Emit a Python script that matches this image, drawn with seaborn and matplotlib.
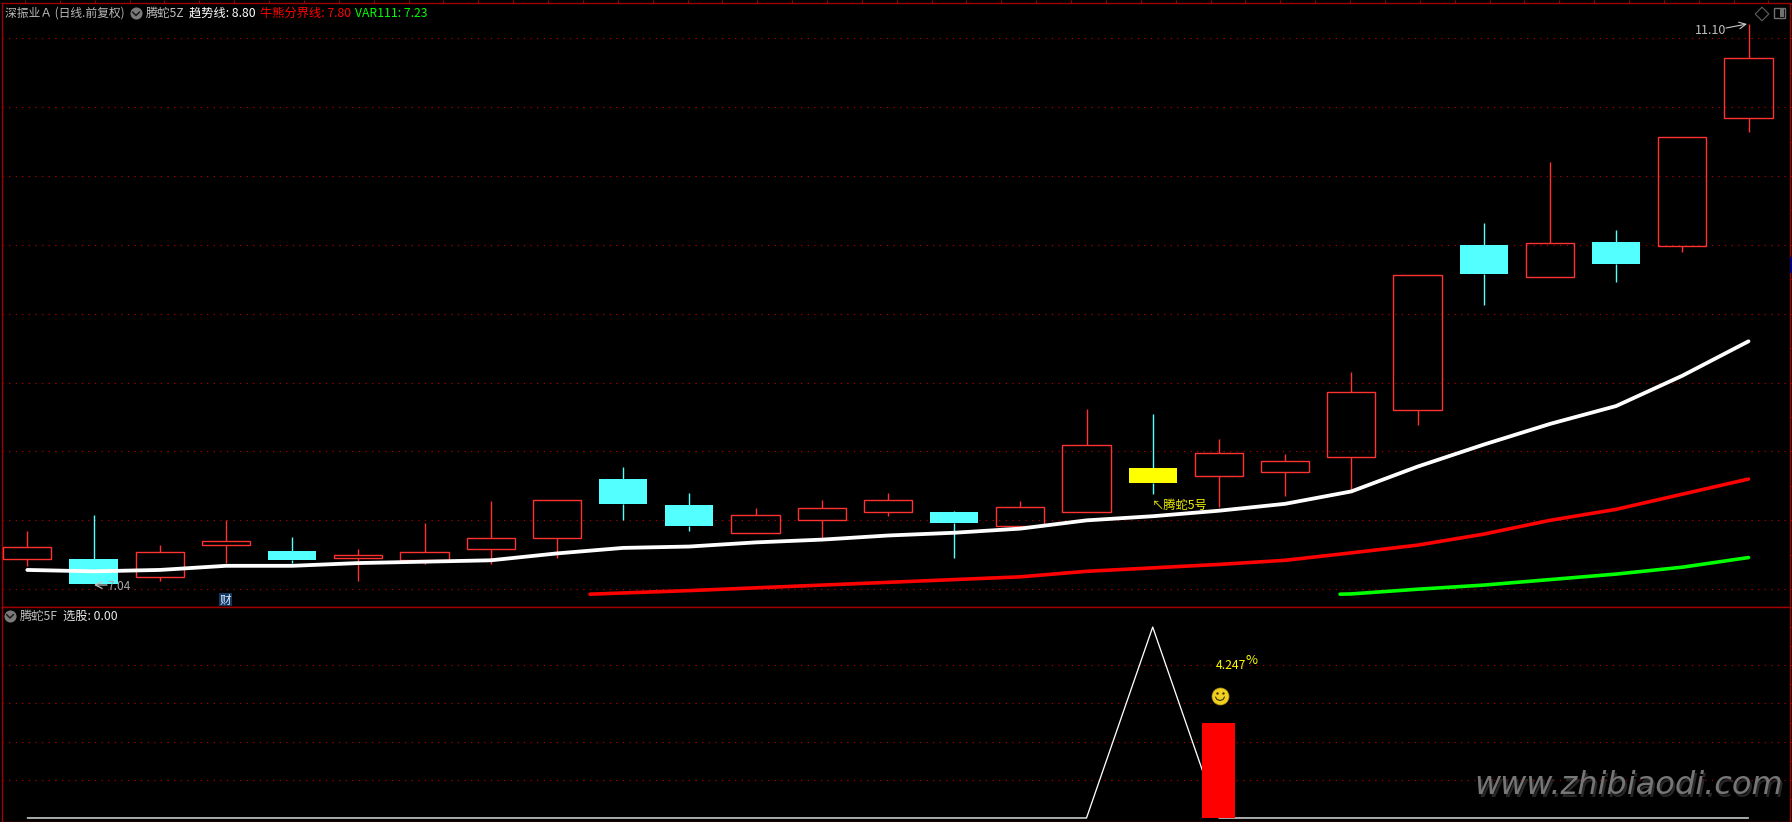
import matplotlib

matplotlib.use("Agg")

import matplotlib.pyplot as plt
import numpy as np
import pandas as pd
import seaborn as sns
from matplotlib.patches import Rectangle

# daily candles, oldest first
open_price = [7.22, 7.22, 7.09, 7.32, 7.28, 7.23, 7.21, 7.29, 7.37, 7.80, 7.61, 7.41, 7.50, 7.56,
              7.56, 7.46, 7.56, 7.88, 7.82, 7.85, 7.96, 8.30, 9.50, 9.27, 9.52, 9.49, 10.42]
close_price = [7.31, 7.04, 7.27, 7.35, 7.21, 7.25, 7.27, 7.37, 7.65, 7.62, 7.46, 7.54, 7.59, 7.65,
               7.48, 7.60, 8.05, 7.77, 7.99, 7.93, 8.43, 9.28, 9.29, 9.51, 9.36, 10.28, 10.86]
high_price = [7.42, 7.54, 7.32, 7.50, 7.38, 7.29, 7.48, 7.64, 7.65, 7.89, 7.70, 7.59, 7.65, 7.70,
              7.57, 7.64, 8.31, 8.27, 8.09, 7.98, 8.58, 9.28, 9.66, 10.10, 9.61, 10.28, 11.10]
low_price = [7.17, 7.04, 7.06, 7.19, 7.19, 7.06, 7.18, 7.18, 7.23, 7.50, 7.42, 7.41, 7.37, 7.53,
             7.23, 7.46, 7.56, 7.69, 7.60, 7.68, 7.72, 8.19, 9.06, 9.27, 9.23, 9.45, 10.32]
signal_day = 17

trend_line = [7.14, 7.13, 7.14, 7.17, 7.17, 7.19, 7.20, 7.21, 7.26, 7.30, 7.31, 7.34, 7.36, 7.39,
              7.41, 7.44, 7.50, 7.53, 7.57, 7.62, 7.71, 7.89, 8.05, 8.20, 8.33, 8.55, 8.80]
bull_bear_x = [8.5, 9, 10, 11, 12, 13, 14, 15, 16, 17, 18, 19, 20, 21, 22, 23, 24, 25, 26]
bull_bear_line = [6.964, 6.973, 6.99, 7.01, 7.03, 7.05, 7.07, 7.09, 7.13, 7.155, 7.18, 7.21,
                  7.264, 7.32, 7.40, 7.50, 7.58, 7.69, 7.80]
var111_x = [19.83, 20, 21, 22, 23, 24, 25, 26]
var111_line = [6.964, 6.966, 7.00, 7.03, 7.07, 7.11, 7.16, 7.23]

pick_line = [0, 0, 0, 0, 0, 0, 0, 0, 0, 0, 0, 0, 0, 0, 0, 0, 0, 2, 0, 0, 0, 0, 0, 0, 0, 0, 0]
pick_bar_day = [18]
pick_bar = [1.0]

W, H = 1792, 822
PX = 0.72  # one pixel in points at dpi 100
FRAME = "#a00000"
GRID = "#b00000"
UP = "#ff3232"
DOWN = "#54ffff"
FONTS = ["Noto Sans CJK SC", "DejaVu Sans"]

sns.set_theme(style="dark", rc={"figure.facecolor": "black", "axes.facecolor": "black"})
plt.rcParams["font.family"] = FONTS

fig = plt.figure(figsize=(W / 100, H / 100), dpi=100)


def panel(top, bottom):
    ax = fig.add_axes([2 / W, 1 - bottom / H, 1788 / W, (bottom - top) / H])
    for side, spine in ax.spines.items():
        spine.set_color(FRAME)
        spine.set_linewidth(1.4 * PX)
    return ax


ax = panel(3, 607)
low = panel(607, 822)
days = np.arange(len(close_price))

# candles
frame = pd.DataFrame({"day": days, "open": open_price, "close": close_price,
                      "high": high_price, "low": low_price})
frame["top"] = frame[["open", "close"]].max(axis=1)
frame["bottom"] = frame[["open", "close"]].min(axis=1)
rising = frame["close"] > frame["open"]
wick_colors = np.where(rising, UP, DOWN)
ax.vlines(frame["day"], frame["top"], frame["high"], colors=wick_colors, lw=1.4 * PX, zorder=2)
ax.vlines(frame["day"], frame["low"], frame["bottom"], colors=wick_colors, lw=1.4 * PX, zorder=2)
for row, up in zip(frame.itertuples(), rising):
    if up:
        ax.bar(row.day, row.top - row.bottom, bottom=row.bottom, width=0.73, facecolor="none",
               edgecolor=UP, linewidth=1.4 * PX, zorder=3)
    else:
        color = "#ffff00" if row.day == signal_day else DOWN
        ax.bar(row.day, row.top - row.bottom, bottom=row.bottom, width=0.73, color=color,
               linewidth=0, zorder=3)

sns.lineplot(x=days, y=trend_line, ax=ax, color="white", linewidth=3.8 * PX, estimator=None, zorder=4)
sns.lineplot(x=bull_bear_x, y=bull_bear_line, ax=ax, color="#ff0000", linewidth=3.6 * PX,
             estimator=None, zorder=4)
sns.lineplot(x=var111_x, y=var111_line, ax=ax, color="#00ff00", linewidth=3.6 * PX,
             estimator=None, zorder=4)

# lower panel
sns.lineplot(x=days, y=pick_line, ax=low, color="white", linewidth=1.3 * PX, estimator=None, zorder=2)
sns.barplot(x=pick_bar_day, y=pick_bar, ax=low, color="#ff0000", width=0.5, native_scale=True,
            saturation=1, linewidth=0, edgecolor="none", zorder=3)

x_limits = ((2 - 27.3) / 66.2, (1790 - 27.3) / 66.2)
top_ticks = (np.arange(25, 1790, 34.87) - 27.3) / 66.2
ax.set_xlim(x_limits)
ax.set_ylim(6.871, 11.256)
low.set_xlim(x_limits)
low.set_ylim(-0.042, 2.21)

for a, major, minor in ((ax, np.arange(7, 11.01, 0.5), np.arange(7, 11.26, 0.25)),
                        (low, np.arange(0.4, 1.61, 0.4), np.arange(0.2, 2.2, 0.2))):
    a.set_xlabel("")
    a.set_ylabel("")
    a.set_yticks(major)
    a.set_yticks(minor, minor=True)
    a.yaxis.tick_right()
    a.tick_params(axis="y", which="both", length=2, width=PX, color=FRAME, labelright=False)
    a.set_xticks([])
    a.set_axisbelow(True)
    a.grid(False)
    a.grid(axis="y", which="major", color=GRID, linewidth=1.2 * PX, linestyle=(0, (1, 4.5)))
ax.xaxis.tick_top()
ax.set_xticks(top_ticks)
ax.tick_params(axis="x", length=2.5, width=PX, color=FRAME, labeltop=False)

# labels live in an overlay measured in pixels
over = fig.add_axes([0, 0, 1, 1], zorder=10)
over.set_xlim(0, W)
over.set_ylim(H, 0)
over.axis("off")


def label(x, y, text, color="#c8c8c8", size=8.8, **kwargs):
    over.text(x, y, text, color=color, fontsize=size, va="center", ha="left", family=FONTS, **kwargs)


def menu_icon(x, y):
    over.scatter([x], [y], s=76, color="#7a7a7a", linewidths=0, zorder=2)
    over.plot([x - 3.5, x, x + 3.5], [y - 1, y + 2.5, y - 1], color="#1a1a1a", lw=1.1, zorder=3)


label(5, 13.5, "深振业Ａ (日线.前复权)", "#b8b8b8", size=8.5)
menu_icon(136, 13)
label(146, 13.5, "腾蛇5Z", "#c0c0c0")
label(189, 13.5, "趋势线: 8.80", "white")
label(260, 13.5, "牛熊分界线: 7.80", "#ff0000")
label(355, 13.5, "VAR111: 7.23", "#00ff00")

menu_icon(10, 615.5)
label(20, 616, "腾蛇5F", "#c0c0c0")
label(63, 616, "选股: 0.00", "#e8e8e8")

label(107, 586.5, "7.04", "#a8a8a8", size=8.6)
over.annotate("", xy=(94, 585), xytext=(107, 585),
              arrowprops=dict(arrowstyle="->", color="#c0c0c0", lw=0.9, shrinkA=0, shrinkB=0))
label(1695, 30, "11.10", "#c0c0c0", size=9)
over.annotate("", xy=(1747, 24), xytext=(1726, 28),
              arrowprops=dict(arrowstyle="->", color="#c8c8c8", lw=0.8, shrinkA=0, shrinkB=0))

over.add_patch(Rectangle((219, 593), 13, 13, facecolor="#103860", edgecolor="none"))
over.text(225.5, 600.5, "财", color="#e0e8ff", fontsize=8.4, ha="center", va="center", family=FONTS)
label(1152, 505, "↖腾蛇5号", "#f0f000", size=8.8)

label(1216, 665, "4.247", "#ffff00", size=8.8)
label(1246, 660, "%", "#ffff00", size=9.4)

over.scatter([1220], [696], s=150, color="#f0d020", edgecolors="#b09010", linewidths=0.5, zorder=2)
over.scatter([1217, 1223], [693, 693], s=3, color="#403000", linewidths=0, zorder=3)
smile_x = [1215.5, 1217, 1220, 1223, 1224.5]
smile_y = [697, 699.5, 700.5, 699.5, 697]
over.plot(smile_x, smile_y, color="#403000", lw=0.8, zorder=3)

over.scatter([1762], [14], marker="D", s=48, facecolors="none", edgecolors="#606060", linewidths=0.8)
over.add_patch(Rectangle((1774, 8), 11, 10, facecolor="none", edgecolor="#707070", lw=1))
over.add_patch(Rectangle((1780, 9), 4, 8, facecolor="#707070", edgecolor="none"))
over.add_patch(Rectangle((1790, 257), 2, 16, facecolor="#000080", edgecolor="none"))

# site watermark with its soft shadow
for dx, dy, color in ((2, 3, "#262626"), (0, 0, "#767676")):
    over.text(1474 + dx, 785 + dy, "www.zhibiaodi.com", color=color, fontsize=23, style="italic",
              family="DejaVu Sans", va="center", ha="left")

fig.savefig("out.png", dpi=100, facecolor="black")
plt.close(fig)
